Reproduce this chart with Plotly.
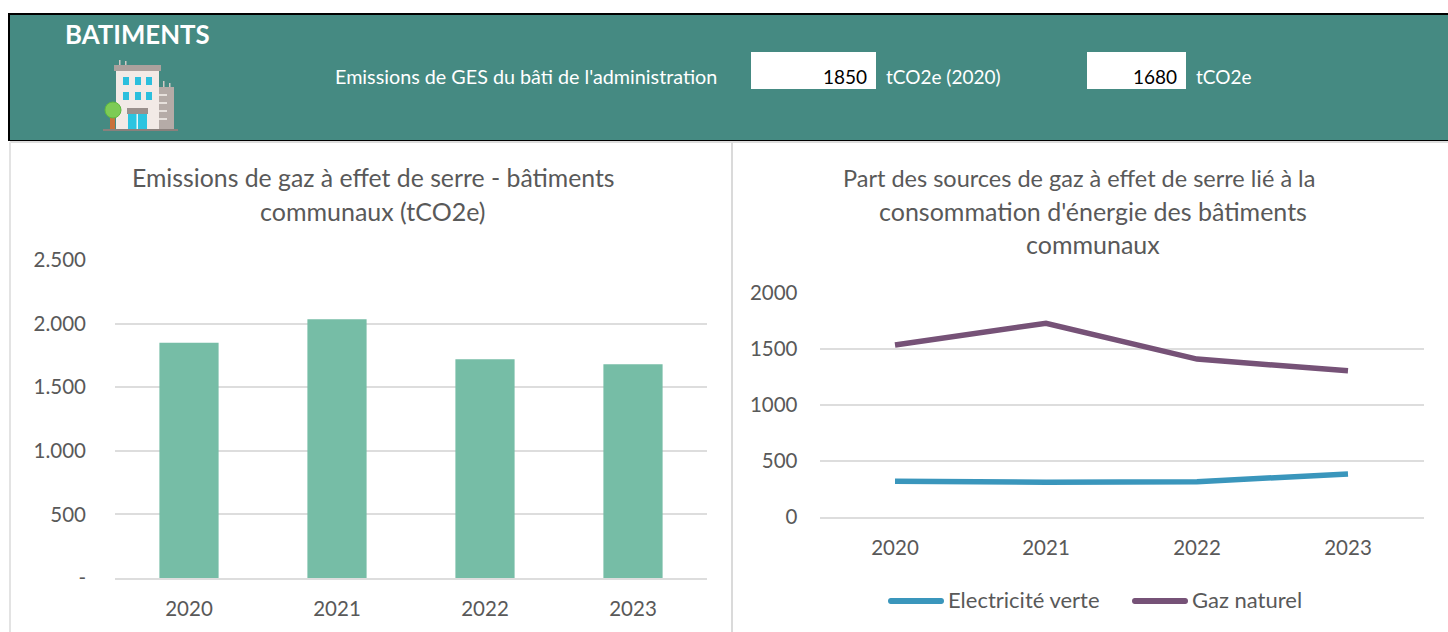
import plotly.graph_objects as go

W, H = 1448, 632
FONT = "Lato"

years = ["2020", "2021", "2022", "2023"]
emissions = [1850, 2035, 1720, 1680]
electricite = [320, 310, 315, 385]
gaz = [1535, 1730, 1410, 1305]
left_ticks = [0, 500, 1000, 1500, 2000, 2500]
left_labels = ["-", "500", "1.000", "1.500", "2.000", "2.500"]
right_ticks = [0, 500, 1000, 1500, 2000]


def px(x):
    return x / W


def py(y):
    return 1 - y / H


def rect(x0, y0, x1, y1, fill, line=None, lw=0):
    return dict(type="rect", xref="paper", yref="paper", layer="below",
                x0=px(x0), x1=px(x1), y0=py(y0), y1=py(y1), fillcolor=fill,
                line=dict(color=line or fill, width=lw))


def disc(x0, y0, x1, y1, fill, line=None, lw=0):
    return dict(type="circle", xref="paper", yref="paper", layer="below",
                x0=px(x0), x1=px(x1), y0=py(y1), y1=py(y0), fillcolor=fill,
                line=dict(color=line or fill, width=lw))


shapes = [
    rect(8, 13, 1448, 141, "#000000"),
    rect(10, 15, 1448, 140, "#458A82"),
    rect(10, 141, 1448, 143, "#DDDDDD"),
    rect(751, 52, 876, 89, "#FFFFFF"),
    rect(1087, 52, 1186, 89, "#FFFFFF"),
    rect(9, 142, 11, 632, "#E3E3E3"),
    rect(731, 142, 733, 632, "#DADADA"),
]
# building icon
icon = [
    (119, 60, 120.5, 67, "#CFC9C5"), (125, 61, 126.5, 67, "#CFC9C5"),
    (163, 81, 164.5, 88, "#CFC9C5"), (169, 83, 170.5, 88, "#CFC9C5"),
    (158, 87, 174, 130, "#B5ABA7"), (159, 94, 167, 96, "#E6E0DC"),
    (159, 102, 167, 104, "#E6E0DC"), (159, 110, 167, 112, "#E6E0DC"),
    (159, 118, 167, 120, "#E6E0DC"), (116, 70, 159, 130, "#F2EAE6"),
    (114, 65, 161, 71, "#ABA19D"),
    (123, 77, 129, 85, "#2BBFDD"), (135, 77, 141, 85, "#2BBFDD"), (146, 77, 152, 85, "#2BBFDD"),
    (123, 92, 129, 100, "#2BBFDD"), (135, 92, 141, 100, "#2BBFDD"), (146, 92, 152, 100, "#2BBFDD"),
    (128, 113, 147, 129, "#2BC4E0"), (136.5, 113, 138, 129, "#E9F6F8"),
    (127, 108, 148, 114, "#9A908C"),
    (110, 116, 115, 129, "#C9703A"),
    (103, 129, 178, 131, "#8A807C"),
]
shapes += [rect(*i[:4], i[4]) for i in icon]
shapes.append(disc(105, 102, 121, 118, "#7DCB55", "#5EB83F", 1))


def txt(x, y, s, size, color="#FFFFFF", anchor="left", bold=False):
    return dict(xref="paper", yref="paper", x=px(x), y=py(y), text=f"<b>{s}</b>" if bold else s,
                showarrow=False, xanchor=anchor, yanchor="middle",
                font=dict(family=FONT, size=size, color=color))


GREY = "#595959"
annotations = [
    txt(63, 34, "BATIMENTS", 25.8, bold=True),
    txt(333, 77, "Emissions de GES du bâti de l'administration", 19.75),
    txt(869, 77, "1850", 19, "#000000", "right"),
    txt(884, 77, "tCO2e (2020)", 19),
    txt(1179, 77, "1680", 19, "#000000", "right"),
    txt(1194, 77, "tCO2e", 19),
    txt(373, 178, "Emissions de gaz à effet de serre - bâtiments", 24.8, GREY, "center"),
    txt(372, 211, "communaux (tCO2e)", 25, GREY, "center"),
    txt(1078.5, 178, "Part des sources de gaz à effet de serre lié à la", 23.5, GREY, "center"),
    txt(1092.5, 211, "consommation d'énergie des bâtiments", 25, GREY, "center"),
    txt(1093, 244, "communaux", 25, GREY, "center"),
    txt(946, 599, "Electricité verte", 22, GREY),
    txt(1190, 599, "Gaz naturel", 22, GREY),
]

fig = go.Figure()
fig.add_bar(x=years, y=emissions, marker_color="#76BDA6", width=0.4, xaxis="x", yaxis="y",
            showlegend=False)
fig.add_scatter(x=years, y=electricite, mode="lines", name="Electricité verte",
                line=dict(color="#3A96BC", width=5.5), xaxis="x2", yaxis="y2", showlegend=False)
fig.add_scatter(x=years, y=gaz, mode="lines", name="Gaz naturel",
                line=dict(color="#765277", width=5.5), xaxis="x2", yaxis="y2", showlegend=False)

# legend keys with rounded ends
for x0, x1, c in [(888, 944, "#3A96BC"), (1132, 1188, "#765277")]:
    shapes.append(rect(x0 + 2.5, 598, x1 - 2.5, 604, c))
    shapes.append(disc(x0, 598, x0 + 6, 604, c))
    shapes.append(disc(x1 - 6, 598, x1, 604, c))

axis_font = dict(family=FONT, size=20.5, color=GREY)
grid = "#DDDDDD"
fig.update_layout(
    template="none",
    width=W, height=H, autosize=False, margin=dict(l=0, r=0, t=0, b=0, pad=0),
    paper_bgcolor="#FFFFFF", plot_bgcolor="#FFFFFF", showlegend=False,
    shapes=shapes, annotations=annotations,
    xaxis=dict(domain=[px(115), px(707)], anchor="y", type="category", showline=True,
               linecolor=grid, linewidth=2, ticks="", tickfont=axis_font, ticklabelstandoff=11,
               showgrid=False, automargin=False, range=[-0.5, 3.5]),
    yaxis=dict(domain=[py(578), py(260)], anchor="x", range=[0, 2500], tickvals=left_ticks,
               ticktext=left_labels, gridcolor=grid, gridwidth=2, zeroline=False, showline=False,
               ticks="", tickfont=axis_font, ticklabelstandoff=28, automargin=False),
    xaxis2=dict(domain=[px(819.5), px(1423.5)], anchor="y2", type="category", showline=True,
                linecolor=grid, linewidth=2, ticks="", tickfont=axis_font, ticklabelstandoff=11,
                showgrid=False, automargin=False, range=[-0.5, 3.5]),
    yaxis2=dict(domain=[py(517), py(293)], anchor="x2", range=[0, 2000], tickvals=right_ticks,
                gridcolor=grid, gridwidth=2, zeroline=False, showline=False, ticks="",
                tickfont=axis_font, ticklabelstandoff=21, tickformat="d", automargin=False),
)
fig.write_html("out.html", config={"displayModeBar": False},
               post_script="document.body.style.margin='0';document.body.style.overflow='hidden';")
